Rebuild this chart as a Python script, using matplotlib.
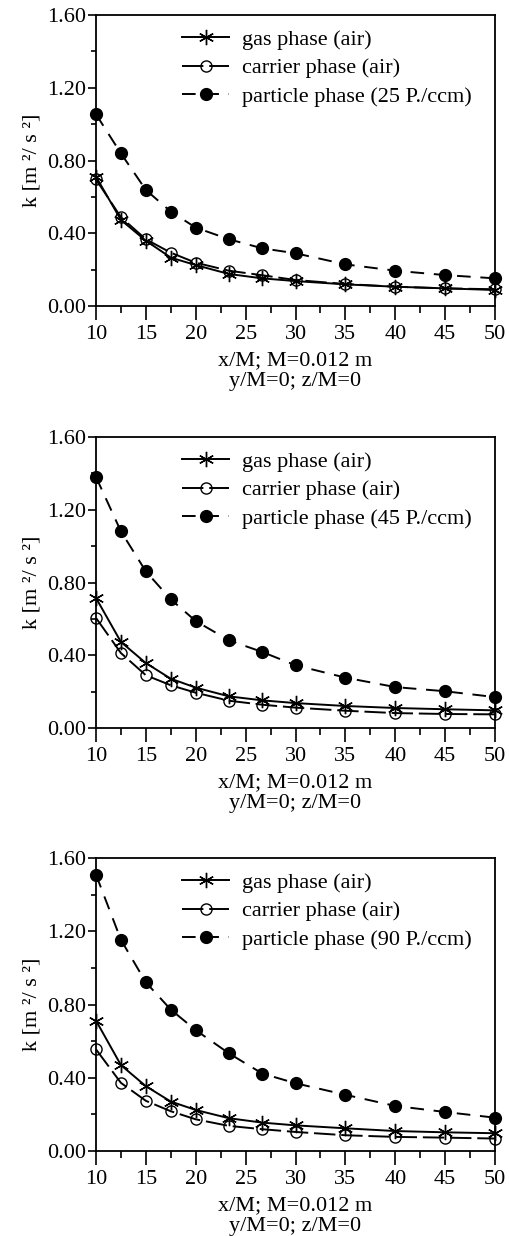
import numpy as np
import matplotlib.pyplot as plt

plt.rcParams['font.family'] = ['Liberation Serif', 'DejaVu Serif']
plt.rcParams['font.size'] = 16

# x/M positions
x = [10, 12.5, 15, 17.5, 20, 23.33, 26.67, 30, 35, 40, 45, 50]

# panel 1 (25 P./ccm)
gas_1 = [0.711, 0.473, 0.359, 0.266, 0.225, 0.176, 0.152, 0.137, 0.119, 0.106, 0.097, 0.088]
carrier_1 = [0.696, 0.488, 0.367, 0.293, 0.238, 0.194, 0.169, 0.143, 0.121, 0.106, 0.097, 0.092]
particle_1 = [1.054, 0.839, 0.638, 0.519, 0.431, 0.367, 0.317, 0.290, 0.229, 0.194, 0.170, 0.152]

# panel 2 (45 P./ccm)
gas_2 = [0.715, 0.473, 0.357, 0.271, 0.222, 0.174, 0.152, 0.137, 0.121, 0.110, 0.103, 0.097]
carrier_2 = [0.605, 0.412, 0.290, 0.235, 0.194, 0.150, 0.128, 0.112, 0.095, 0.082, 0.077, 0.075]
particle_2 = [1.380, 1.081, 0.861, 0.707, 0.588, 0.482, 0.418, 0.345, 0.277, 0.225, 0.202, 0.170]

# panel 3 (90 P./ccm)
gas_3 = [0.712, 0.469, 0.354, 0.270, 0.224, 0.179, 0.155, 0.140, 0.124, 0.109, 0.102, 0.097]
carrier_3 = [0.555, 0.372, 0.274, 0.217, 0.173, 0.137, 0.119, 0.104, 0.086, 0.077, 0.073, 0.068]
particle_3 = [1.509, 1.153, 0.921, 0.772, 0.660, 0.533, 0.423, 0.370, 0.307, 0.246, 0.213, 0.182]

concentrations = ["25", "45", "90"]
panels = [(gas_1, carrier_1, particle_1),
          (gas_2, carrier_2, particle_2),
          (gas_3, carrier_3, particle_3)]

fig = plt.figure(figsize=(5.09, 12.36), dpi=100)
W, H = 509.0, 1236.0
# axes boxes in pixels: left, top, right, bottom
boxes = [(96, 15, 495, 306), (96, 437, 495, 728), (96, 858, 495, 1151)]

for (gas, carrier, particle), conc, (l, t, r, b) in zip(panels, concentrations, boxes):
    ax = fig.add_axes([l / W, 1 - b / H, (r - l) / W, (b - t) / H])
    ax.plot(x, gas, color='black', lw=1.4, marker=(6, 2, 0), ms=11, mew=1.0,
            label='gas phase (air)', clip_on=False)
    ax.plot(x, carrier, color='black', lw=1.4, dashes=(11, 3), marker='o', ms=8,
            mfc='none', mew=1.0, label='carrier phase (air)', clip_on=False)
    ax.plot(x, particle, color='black', lw=1.4, dashes=(7, 5), marker='o', ms=8.5,
            label='particle phase (' + conc + ' P./ccm)', clip_on=False)

    ax.set_xlim(10, 50)
    ax.set_ylim(0, 1.6)
    ax.set_xticks(np.arange(10, 51, 5))
    ax.set_xticks(np.arange(12.5, 50, 5), minor=True)
    ax.set_yticks([0, 0.4, 0.8, 1.2, 1.6])
    ax.set_yticks([0.2, 0.6, 1.0, 1.4], minor=True)
    ax.set_yticklabels(['0.00', '0.40', '0.80', '1.20', '1.60'])
    ax.tick_params(axis='x', which='major', direction='out', length=10, width=1.2, pad=4)
    ax.tick_params(axis='x', which='minor', direction='out', length=5, width=1.2)
    ax.tick_params(axis='y', which='major', direction='out', length=6, width=1.2, pad=1)
    ax.tick_params(axis='y', which='minor', direction='out', length=3.5, width=1.2)
    for s in ax.spines.values():
        s.set_linewidth(1.3)

    ax.set_xlabel('x/M; M=0.012 m\ny/M=0; z/M=0', linespacing=1.1, labelpad=5)
    ax.set_ylabel('k [m \u00b2/ s \u00b2]', labelpad=4)
    ax.legend(loc='upper left', bbox_to_anchor=(0.18, 1.0), frameon=False,
              handlelength=2.1, handletextpad=0.6, labelspacing=0.35, borderaxespad=0.25)

fig.savefig('out.png', dpi=100)
